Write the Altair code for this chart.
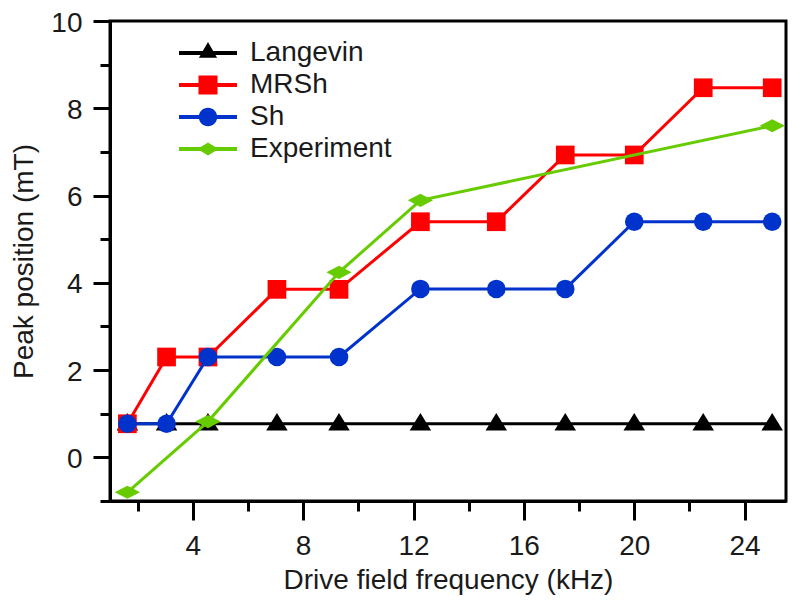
import altair as alt
import pandas as pd

# ---- data ----
series_names = ["Langevin", "MRSh", "Sh", "Experiment"]
series_colors = ["#000000", "#ff0000", "#0033cc", "#66cc00"]

freq = [1.63, 3.05, 4.55, 7.05, 9.3, 12.25, 15.0, 17.5, 20.0, 22.5, 25.0]
langevin = [0.77, 0.77, 0.77, 0.77, 0.77, 0.77, 0.77, 0.77, 0.77, 0.77, 0.77]
mrsh = [0.77, 2.3, 2.3, 3.85, 3.85, 5.4, 5.4, 6.93, 6.93, 8.47, 8.47]
sh = [0.77, 0.77, 2.3, 2.3, 2.3, 3.86, 3.86, 3.86, 5.4, 5.4, 5.4]
exp_freq = [1.63, 4.55, 9.3, 12.25, 25.0]
experiment = [-0.8, 0.82, 4.24, 5.89, 7.6]

x_major = [4, 8, 12, 16, 20, 24]
x_minor = [2, 6, 10, 14, 18, 22]
y_major = [0, 2, 4, 6, 8, 10]
y_minor = [-1, 1, 3, 5, 7, 9]

rows = []
for f, v in zip(freq, langevin):
    rows.append({"f": f, "v": v, "series": "Langevin"})
for f, v in zip(freq, mrsh):
    rows.append({"f": f, "v": v, "series": "MRSh"})
for f, v in zip(freq, sh):
    rows.append({"f": f, "v": v, "series": "Sh"})
for f, v in zip(exp_freq, experiment):
    rows.append({"f": f, "v": v, "series": "Experiment"})
df = pd.DataFrame(rows)

FONT = "Liberation Sans"

# marker shapes in the plot (custom paths; size 484 -> unit 11px)
plot_shapes = {
    "Langevin": ("M0,-0.97L0.98,0.61L-0.98,0.61Z", 484),
    "MRSh": ("square", 350),
    "Sh": ("circle", 345),
    "Experiment": ("M-1.15,0L0,-0.6L1.15,0L0,0.6Z", 484),
}

# legend symbols: line segment + marker (size 784 -> unit 14px)
seg = "M-2.07,-0.14H2.07V0.14H-2.07Z "
legend_shapes = [
    seg + "M0,-0.79L0.65,0.34L-0.65,0.34Z",
    seg + "M-0.68,-0.68H0.68V0.68H-0.68Z",
    seg + "M-0.66,0A0.66,0.66 0 1,1 0.66,0A0.66,0.66 0 1,1 -0.66,0Z",
    seg + "M-0.75,0L0,-0.46L0.75,0L0,0.46Z",
]

xscale = alt.Scale(domain=[1, 25.5], nice=False, zero=False)
yscale = alt.Scale(domain=[-1, 10], nice=False, zero=False)

base = alt.Chart(df)

x_major_axis = alt.Axis(
    orient="bottom", values=x_major, tickSize=19, tickWidth=3, domainWidth=3,
    domainColor="black", tickColor="black", labelFontSize=28, labelFont=FONT,
    labelColor="#1a1a1a", labelPadding=12, labelFlush=False,
    title="Drive field frequency (kHz)", titleFont=FONT, titleFontSize=28,
    titleFontWeight="normal", titleColor="#1a1a1a", titlePadding=6, grid=False,
)
x_minor_axis = alt.Axis(
    orient="bottom", values=x_minor, tickSize=10, tickWidth=3, domain=False,
    tickColor="black", labels=False, title=None, grid=False,
)
y_major_axis = alt.Axis(
    orient="left", values=y_major, tickSize=17, tickWidth=3, domainWidth=3,
    domainColor="black", tickColor="black", labelFontSize=28, labelFont=FONT,
    labelColor="#1a1a1a", labelPadding=11, labelFlush=False, labelOffset=2,
    title="Peak position (mT)", titleFont=FONT, titleFontSize=28,
    titleFontWeight="normal", titleColor="#1a1a1a", titlePadding=12, grid=False,
)
y_minor_axis = alt.Axis(
    orient="left", values=y_minor, tickSize=10, tickWidth=3, domain=False,
    tickColor="black", labels=False, title=None, grid=False,
)

layers = []
for i, (name, color) in enumerate(zip(series_names, series_colors)):
    sub = base.transform_filter(alt.datum.series == name)
    xa = x_major_axis if i == 0 else None
    ya = y_major_axis if i == 0 else None
    line = sub.mark_line(color=color, strokeWidth=3).encode(
        x=alt.X("f:Q", scale=xscale, axis=xa),
        y=alt.Y("v:Q", scale=yscale, axis=ya),
    )
    shp, sz = plot_shapes[name]
    pts = sub.mark_point(
        shape=shp, size=sz, filled=True, color=color, opacity=1, strokeWidth=0
    ).encode(
        x=alt.X("f:Q", scale=xscale, axis=None),
        y=alt.Y("v:Q", scale=yscale, axis=None),
    )
    layers += [line, pts]

legend_props = dict(
    orient="none", legendX=84, legendY=18, title=None,
    labelFont=FONT, labelFontSize=28, labelColor="#1a1a1a",
    labelOffset=28, rowPadding=4, padding=0,
    symbolSize=784, symbolStrokeWidth=0, symbolOpacity=1,
)

# legend-only layer (no data drawn); also carries the minor-tick axes
legend_layer = base.transform_filter("false").mark_point(
    filled=True, opacity=1, strokeWidth=0, size=784
).encode(
    x=alt.X("f:Q", scale=xscale, axis=x_minor_axis),
    y=alt.Y("v:Q", scale=yscale, axis=y_minor_axis),
    color=alt.Color(
        "series:N",
        scale=alt.Scale(domain=series_names, range=series_colors),
        legend=alt.Legend(**legend_props),
    ),
    shape=alt.Shape(
        "series:N",
        scale=alt.Scale(domain=series_names, range=legend_shapes),
        legend=alt.Legend(**legend_props),
    ),
)

chart = (
    alt.layer(*layers, legend_layer)
    .resolve_axis(x="independent", y="independent")
    .properties(
        width=676, height=480,
        autosize=alt.AutoSizeParams(type="none"),
        padding={"left": 102, "top": 13, "right": 6, "bottom": 95},
        background="white",
    )
    .configure_view(stroke="black", strokeWidth=3)
)

chart.save("out.html", embed_options={"renderer": "svg", "actions": False})
